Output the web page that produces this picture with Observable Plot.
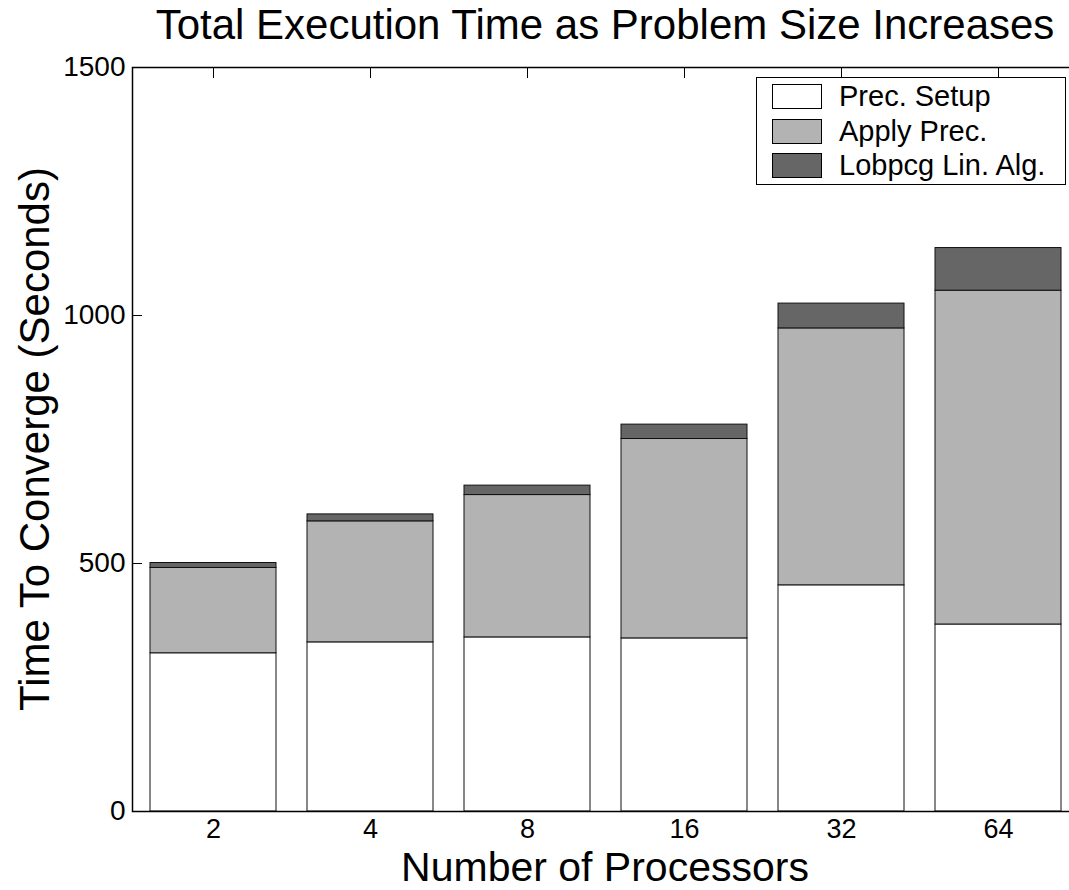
<!DOCTYPE html>
<html>
<head>
<meta charset="utf-8">
<script src="https://cdn.jsdelivr.net/npm/d3@7"></script>
<script src="https://cdn.jsdelivr.net/npm/@observablehq/plot@0.6"></script>
<style>
  html, body { margin: 0; padding: 0; background: #fff; overflow: hidden; }
  #wrap { position: relative; width: 1069px; height: 890px; font-family: "Liberation Sans", Arial, Helvetica, sans-serif; color: #000; }
  #wrap svg { position: absolute; left: 0; top: 0; }
  .lbl { position: absolute; font-size: 42px; line-height: 42px; height: 42px; text-align: center; white-space: nowrap; }
  #title { left: 132px; width: 946px; top: 4px; }
  #xlabel { left: 132px; width: 946px; top: 850.5px; font-size: 41px; line-height: 32px; height: 32px; }
  #ylabel { left: -315px; width: 700px; top: 418px; transform: rotate(-90deg); }
  #legend { position: absolute; left: 756px; top: 77px; width: 308px; height: 106px; border: 1px solid #000; background: #fff; }
  .row { position: absolute; left: 15px; height: 25px; display: flex; align-items: center; font-size: 29px; white-space: nowrap; }
  .sw { width: 48px; height: 23px; border: 1px solid #000; margin-right: 17px; }
</style>
</head>
<body>
<div id="wrap">
  <div id="title" class="lbl"></div>
  <div id="xlabel" class="lbl"></div>
  <div id="ylabel" class="lbl"></div>
  <div id="legend"></div>
</div>
<script>
const titleText = "Total Execution Time as Problem Size Increases";
const xLabelText = "Number of Processors";
const yLabelText = "Time To Converge (Seconds)";
const processors = ["2", "4", "8", "16", "32", "64"];
const series = ["Prec. Setup", "Apply Prec.", "Lobpcg Lin. Alg."];
const precSetup = [319, 341, 351, 349, 456, 377];
const applyPrec = [172, 244, 287, 402, 518, 673];
const lobpcgLinAlg = [10, 14, 19, 29, 50, 86];
const yTicks = [0, 500, 1000, 1500];
const colors = ["#ffffff", "#b3b3b3", "#666666"];

const rows = [];
[precSetup, applyPrec, lobpcgLinAlg].forEach((arr, si) =>
  arr.forEach((v, i) => rows.push({processors: processors[i], series: series[si], value: v}))
);

document.getElementById("title").textContent = titleText;
document.getElementById("xlabel").textContent = xLabelText;
document.getElementById("ylabel").textContent = yLabelText;

const legend = document.getElementById("legend");
series.forEach((s, i) => {
  const row = document.createElement("div");
  row.className = "row";
  row.style.top = (6 + i * 34.5) + "px";
  const sw = document.createElement("div");
  sw.className = "sw";
  sw.style.background = colors[i];
  const t = document.createElement("span");
  t.textContent = s;
  row.appendChild(sw);
  row.appendChild(t);
  legend.appendChild(row);
});

const chart = Plot.plot({
  width: 1069,
  height: 890,
  marginTop: 67,
  marginBottom: 79,
  marginLeft: 132,
  marginRight: -9,
  style: {fontFamily: "'Liberation Sans', Arial, Helvetica, sans-serif", fontSize: "28px", color: "black", background: "transparent"},
  x: {domain: processors, paddingInner: 0.2, paddingOuter: 0.1, label: null},
  y: {domain: [0, 1500], label: null},
  color: {domain: series, range: colors},
  marks: [
    Plot.axisX({anchor: "bottom", tickSize: -10, fill: "none", label: null}),
    Plot.barY(rows, {x: "processors", y: "value", fill: "series", stroke: "#111", strokeWidth: 1}),
    Plot.axisX({anchor: "bottom", tickSize: 0, tickPadding: 7, fontSize: 27, label: null}),
    Plot.axisX({anchor: "top", tickSize: -10, fill: "none", label: null}),
    Plot.axisY({anchor: "left", ticks: yTicks, tickFormat: d => String(d), tickSize: 0, tickPadding: 7, label: null}),
    Plot.axisY({anchor: "left", ticks: yTicks, tickSize: -10, fill: "none", label: null}),
    Plot.axisY({anchor: "right", ticks: yTicks, tickSize: -10, fill: "none", label: null}),
    Plot.frame({stroke: "black", strokeWidth: 1.5})
  ]
});
document.getElementById("wrap").insertBefore(chart, document.getElementById("title"));
</script>
</body>
</html>
